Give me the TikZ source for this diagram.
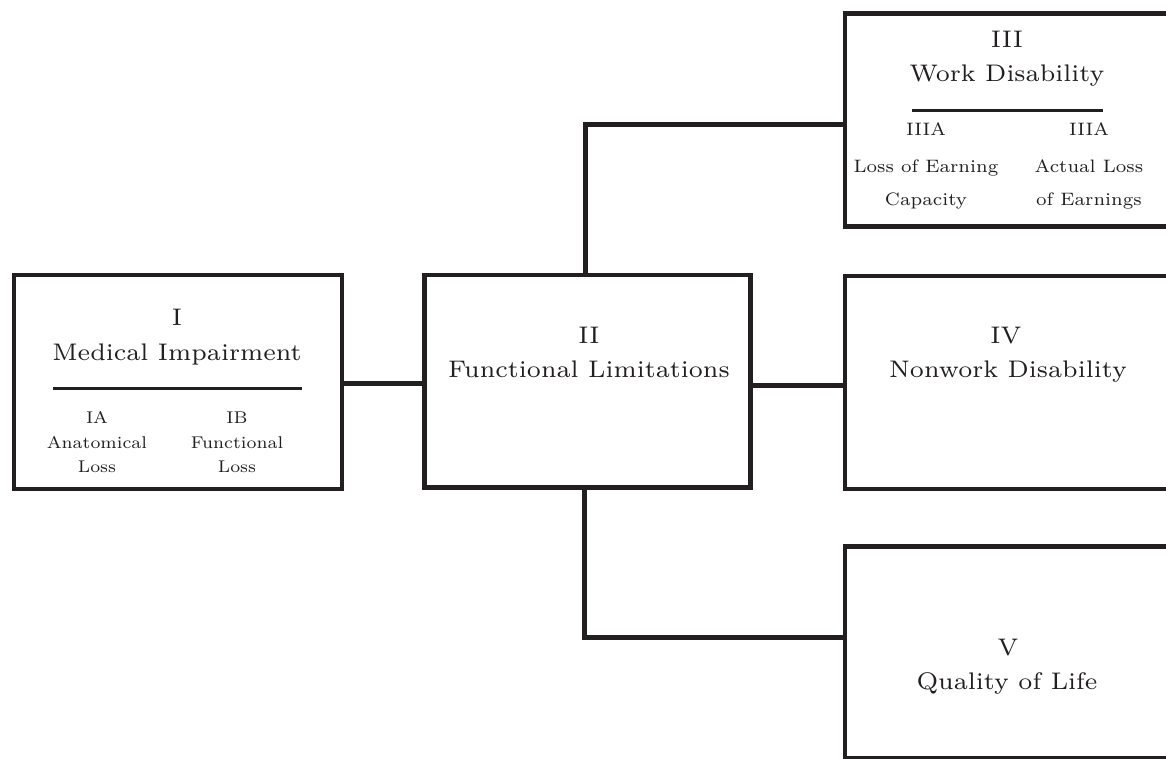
\documentclass[tikz,border=0pt]{standalone}
\usepackage{fontspec}
\setmainfont{lmroman7-regular.otf}[FakeStretch=1.03]
\definecolor{ink}{HTML}{231F20}
\tikzset{
  box/.style={draw=ink, line width=4.5pt, rectangle, outer sep=0pt, inner sep=0pt, anchor=north west},
  conn/.style={draw=ink, line width=4.5pt},
  sep/.style={draw=ink, line width=3pt},
  big/.style={text=ink, anchor=base, inner sep=0pt, font=\fontsize{24}{28}\selectfont},
  subI/.style={text=ink, anchor=base, inner sep=0pt, font=\fontsize{17}{20}\selectfont},
  subIII/.style={text=ink, anchor=base, inner sep=0pt, font=\fontsize{18}{21}\selectfont},
}
\begin{document}
\begin{tikzpicture}[x=1pt,y=-1pt]
\useasboundingbox (0,0) rectangle (1166,758);
\clip (0,0) rectangle (1166,758);
\fill[white] (0,0) rectangle (1166,758);
% boxes
\node[box, minimum width=328pt, minimum height=214pt] (I) at (14,275) {};
\node[box, minimum width=326pt, minimum height=212.5pt] (II) at (424.5,275) {};
\node[box, minimum width=324pt, minimum height=213pt] (III) at (845,13.5) {};
\node[box, minimum width=324pt, minimum height=213pt] (IV) at (845,276) {};
\node[box, minimum width=324pt, minimum height=211.5pt] (V) at (845,546.5) {};
% connectors
\coordinate (c3) at (585.5,124.5);
\coordinate (c5) at (584.5,637.5);
\draw[conn] ([yshift=-1.5pt]I.east) -- ([yshift=-1.5pt]I.east -| II.west);
\draw[conn] ([yshift=-4pt]II.east) -- ([yshift=-4pt]II.east -| IV.west);
\draw[conn] (c3 |- II.north) -- (c3) -- (c3 -| III.west);
\draw[conn] (c5 |- II.south) -- (c5) -- (c5 -| V.west);
% box I text
\node[big] (t1a) at (177,325) {I};
\node[big] (t1b) at (177,360) {Medical Impairment};
\coordinate (s1a) at (53,388);
\coordinate (s1b) at (302,388);
\draw[sep] (s1a) -- (s1b);
\node[subI] (t1c) at (97,423) {IA};
\node[subI] (t1d) at (97,448) {Anatomical};
\node[subI] (t1e) at (97,472) {Loss};
\node[subI] (t1f) at (237,423) {IB};
\node[subI] (t1g) at (237,448) {Functional};
\node[subI] (t1h) at (237,472) {Loss};
% box II text
\node[big] (t2a) at (589,343) {II};
\node[big] (t2b) at (589,377) {Functional Limitations};
% box III text
\node[big] (t3a) at (1007,47) {III};
\node[big] (t3b) at (1007,81) {Work Disability};
\coordinate (s3a) at (912,110);
\coordinate (s3b) at (1103,110);
\draw[sep] (s3a) -- (s3b);
\node[subIII] (t3c) at (926,135) {IIIA};
\node[subIII] (t3d) at (926,172) {Loss of Earning};
\node[subIII] (t3e) at (926,205) {Capacity};
\node[subIII] (t3f) at (1089,135) {IIIA};
\node[subIII] (t3g) at (1089,172) {Actual Loss};
\node[subIII] (t3h) at (1089,205) {of Earnings};
% box IV text
\node[big] (t4a) at (1006,343) {IV};
\node[big] (t4b) at (1008,377) {Nonwork Disability};
% box V text
\node[big] (t5a) at (1008,655) {V};
\node[big] (t5b) at (1007,689) {Quality of Life};
\end{tikzpicture}
\end{document}
